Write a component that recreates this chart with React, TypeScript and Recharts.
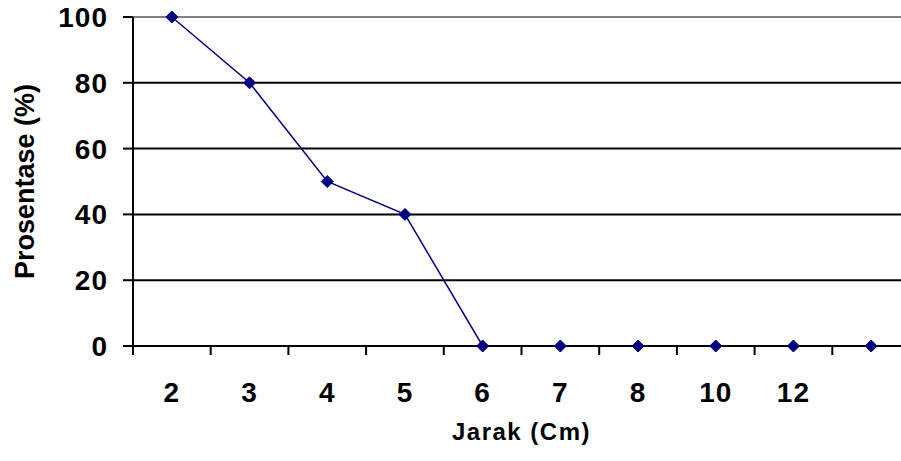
import React from 'react';
import { LineChart, Line, XAxis, YAxis, CartesianGrid, ReferenceLine } from 'recharts';

const categories = ['2', '3', '4', '5', '6', '7', '8', '10', '12', ''];
const percentages = [100, 80, 50, 40, 0, 0, 0, 0, 0, 0];
const yTicks = [0, 20, 40, 60, 80, 100];
const xTitle = 'Jarak (Cm)';
const yTitle = 'Prosentase (%)';

const data = categories.map((c, i) => ({ jarak: c, persen: percentages[i] }));

const NAVY = '#000080';
const FONT = '"Liberation Sans", Arial, Helvetica, sans-serif';
const X_TICK_GAP = 36;
const X_TICK_LEN = 9;

const Diamond = (props: any) => {
  const { cx, cy, index } = props;
  if (cx == null || cy == null) return null;
  const r = 6;
  return (
    <polygon
      key={`d-${index}`}
      points={`${cx},${cy - r} ${cx + r},${cy} ${cx},${cy + r} ${cx - r},${cy}`}
      fill={NAVY}
      stroke={NAVY}
      strokeWidth={1}
    />
  );
};

const tickStyle: any = { fill: '#000000', fontSize: 28, fontWeight: 'bold', fontFamily: FONT, letterSpacing: 1 };

const CategoryTick = (props: any) => {
  const { x, y, payload } = props;
  const off = payload && payload.offset ? payload.offset : 0;
  const axisY = y - X_TICK_GAP;
  return (
    <g>
      <line x1={x - off} x2={x - off} y1={axisY} y2={axisY + X_TICK_LEN} stroke="#000000" strokeWidth={2} />
      <text x={x} y={y} dy="0.71em" textAnchor="middle" style={tickStyle}>
        {payload.value}
      </text>
    </g>
  );
};

export default function App() {
  return (
    <div
      style={{
        position: 'absolute',
        left: 0,
        top: 0,
        width: 901,
        height: 461,
        overflow: 'hidden',
        background: '#ffffff',
      }}
    >
      <LineChart
        width={920}
        height={461}
        data={data}
        margin={{ top: 17, right: 10, left: 0, bottom: 0 }}
        style={{ fontFamily: FONT }}
      >
        <CartesianGrid horizontal vertical={false} stroke="#000000" strokeWidth={2} />
        <XAxis
          dataKey="jarak"
          type="category"
          scale="band"
          allowDuplicatedCategory
          axisLine={{ stroke: '#000000', strokeWidth: 2 }}
          tickLine={false}
          tickSize={0}
          tickMargin={X_TICK_GAP}
          interval={0}
          height={115}
          tick={<CategoryTick />}
          label={{
            value: xTitle,
            position: 'insideBottom',
            offset: 21,
            style: { fill: '#000000', fontSize: 24, fontWeight: 'bold', fontFamily: FONT, letterSpacing: 1.5 },
          }}
        />
        <YAxis
          domain={[0, 100]}
          ticks={yTicks}
          width={133}
          axisLine={{ stroke: '#000000', strokeWidth: 2 }}
          tickLine={{ stroke: '#000000', strokeWidth: 2 }}
          tickSize={10}
          tickMargin={15}
          tick={tickStyle}
          label={{
            value: yTitle,
            angle: -90,
            position: 'insideLeft',
            offset: 24,
            style: { textAnchor: 'middle', fill: '#000000', fontSize: 27, fontWeight: 'bold', fontFamily: FONT },
          }}
        />
        <ReferenceLine y={100} stroke="#808080" strokeWidth={2} />
        <Line
          type="linear"
          dataKey="persen"
          stroke={NAVY}
          strokeWidth={1.5}
          dot={<Diamond />}
          activeDot={false}
          isAnimationActive={false}
        />
      </LineChart>
    </div>
  );
}
